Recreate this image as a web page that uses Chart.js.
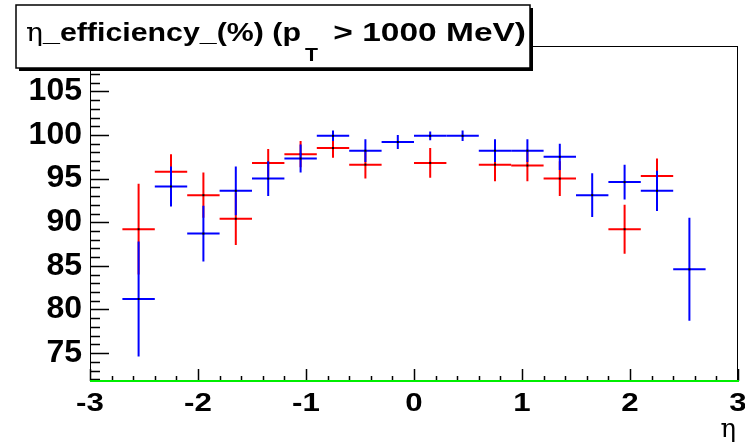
<!DOCTYPE html>
<html>
<head>
<meta charset="utf-8">
<script src="https://cdn.jsdelivr.net/npm/chart.js@4.4.1/dist/chart.umd.min.js"></script>
<style>
  html, body { margin: 0; padding: 0; background: #fff; }
  canvas { display: block; }
</style>
</head>
<body>
<canvas id="chart" width="745" height="446" style="width:745px;height:446px"></canvas>
<script>
// eta bin centres, bins are 0.3 wide
const etaBins = [-2.55, -2.25, -1.95, -1.65, -1.35, -1.05, -0.75, -0.45, -0.15,
                 0.15, 0.45, 0.75, 1.05, 1.35, 1.65, 1.95, 2.25, 2.55];
const binHalfWidth = 0.15;

const effRed = [89.2, 95.8, 93.1, 90.4, 96.8, 97.8, 98.5, 96.6, null,
                96.8, null, 96.6, 96.5, 95.0, null, 89.2, 95.3, null];
const errRed = [5.2, 2.0, 2.6, 3.0, 1.6, 1.5, 1.1, 1.6, null,
                1.7, null, 1.9, 1.8, 2.0, null, 2.8, 2.0, null];

const effBlue = [81.2, 94.1, 88.7, 93.6, 95.0, 97.3, 99.9, 98.2, 99.2,
                 99.9, 99.9, 98.2, 98.2, 97.5, 93.1, 94.6, 93.6, 84.6];
const errBlue = [6.6, 2.3, 3.2, 2.8, 2.0, 1.6, 0.6, 1.3, 0.8,
                 0.5, 0.6, 1.3, 1.3, 1.5, 2.5, 2.0, 2.3, 5.9];

const xTicks = [-3, -2, -1, 0, 1, 2, 3];
const yTicks = [75, 80, 85, 90, 95, 100, 105];
const xMin = -3, xMax = 3, yMin = 71.8, yMax = 110.2;

function toPoints(vals, errs) {
  const pts = [];
  etaBins.forEach((x, i) => {
    if (vals[i] !== null) pts.push({ x: x, y: vals[i], err: errs[i] });
  });
  return pts;
}

// draws the ROOT style crosses: bin width horizontally, error vertically
const errorBars = {
  id: 'errorBars',
  afterDatasetsDraw(chart) {
    const ctx = chart.ctx, xs = chart.scales.x, ys = chart.scales.y;
    const area = chart.chartArea;
    ctx.save();
    ctx.beginPath();
    ctx.rect(area.left, area.top, area.right - area.left, area.bottom - area.top);
    ctx.clip();
    chart.data.datasets.forEach(ds => {
      ctx.strokeStyle = ds.borderColor;
      ctx.lineWidth = 2;
      ds.data.forEach(p => {
        const px = xs.getPixelForValue(p.x), py = ys.getPixelForValue(p.y);
        ctx.beginPath();
        ctx.moveTo(xs.getPixelForValue(p.x - binHalfWidth), py);
        ctx.lineTo(xs.getPixelForValue(p.x + binHalfWidth), py);
        ctx.moveTo(px, ys.getPixelForValue(p.y - p.err));
        ctx.lineTo(px, ys.getPixelForValue(p.y + p.err));
        ctx.stroke();
        ctx.fillStyle = '#000';
        ctx.fillRect(px - 1, py - 1, 2, 2);
      });
    });
    ctx.restore();
  }
};

// stretched text, the original raster has wide glyphs
function wideText(ctx, str, font, x0, x1, base) {
  ctx.save();
  ctx.font = font;
  const w = ctx.measureText(str).width;
  ctx.translate(x0, base);
  ctx.scale((x1 - x0) / w, 1);
  ctx.textAlign = 'left';
  ctx.fillText(str, 0, 0);
  ctx.restore();
}

// frame, inward ticks, x labels, green baseline, title pave and axis title
const rootDecor = {
  id: 'rootDecor',
  afterDraw(chart) {
    const ctx = chart.ctx, xs = chart.scales.x, ys = chart.scales.y;
    const a = chart.chartArea;
    ctx.save();
    ctx.strokeStyle = '#000';
    ctx.lineWidth = 1;
    ctx.strokeRect(a.left + 0.5, a.top + 0.5, a.right - a.left - 1, a.bottom - a.top);

    ctx.beginPath();
    for (let i = 0; i <= 30; i++) {
      const v = xMin + i * 0.2;
      const px = Math.round(xs.getPixelForValue(v)) + 0.5;
      ctx.moveTo(px, a.bottom);
      ctx.lineTo(px, a.bottom - (i % 5 === 0 ? 12 : 5));
    }
    for (let v = 72; v <= 110; v += 1) {
      const py = Math.round(ys.getPixelForValue(v)) + 0.5;
      ctx.moveTo(a.left, py);
      ctx.lineTo(a.left + (v % 5 === 0 ? 19 : 10), py);
    }
    ctx.lineWidth = 1.5;
    ctx.stroke();

    ctx.strokeStyle = '#00ee00';
    ctx.lineWidth = 2;
    ctx.beginPath();
    ctx.moveTo(a.left, a.bottom);
    ctx.lineTo(a.right + 1, a.bottom);
    ctx.stroke();

    // x tick labels
    ctx.fillStyle = '#000';
    ctx.font = 'bold 25px "Liberation Sans"';
    ctx.textAlign = 'center';
    ctx.textBaseline = 'alphabetic';
    xTicks.forEach(v => {
      const px = xs.getPixelForValue(v);
      ctx.save();
      ctx.translate(px, 411);
      ctx.scale(1.25, 1);
      ctx.fillText(String(v), 0, 0);
      ctx.restore();
    });

    // title pave with shadow
    const bx = 16, by = 5, bw = 514, bh = 63;
    ctx.fillStyle = '#000';
    ctx.fillRect(bx + 3, by + 3, bw, bh);
    ctx.fillStyle = '#fff';
    ctx.fillRect(bx, by, bw, bh);
    ctx.strokeStyle = '#000';
    ctx.lineWidth = 1.5;
    ctx.strokeRect(bx, by, bw, bh);

    ctx.fillStyle = '#000';
    const base = 41;
    wideText(ctx, '\u03b7', '26px "DejaVu Serif"', 26, 43, base);
    wideText(ctx, '_efficiency_(%) (p', 'bold 26px "Liberation Sans"', 43, 301, base);
    wideText(ctx, 'T', 'bold 18px "Liberation Sans"', 305, 318, base + 20);
    wideText(ctx, ' > 1000 MeV)', 'bold 26px "Liberation Sans"', 324, 526, base);

    ctx.font = '26px "DejaVu Serif"';
    ctx.textAlign = 'right';
    ctx.fillText('\u03b7', 736, 437);
    ctx.restore();
  }
};

new Chart(document.getElementById('chart'), {
  type: 'scatter',
  data: {
    datasets: [
      { label: 'red', data: toPoints(effRed, errRed), borderColor: '#ff0000', pointRadius: 0, showLine: false },
      { label: 'blue', data: toPoints(effBlue, errBlue), borderColor: '#0000ff', pointRadius: 0, showLine: false }
    ]
  },
  options: {
    responsive: false,
    animation: false,
    devicePixelRatio: 1,
    layout: { padding: { top: 46, right: 7, left: 0, bottom: 0 } },
    plugins: { legend: { display: false }, tooltip: { enabled: false }, title: { display: false } },
    scales: {
      x: {
        type: 'linear', min: xMin, max: xMax,
        grid: { display: false, drawTicks: false },
        border: { display: false },
        afterBuildTicks: s => { s.ticks = xTicks.map(v => ({ value: v })); },
        afterFit: s => { s.height = 65; },
        ticks: { display: false }
      },
      y: {
        type: 'linear', min: yMin, max: yMax,
        grid: { display: false, drawTicks: false },
        border: { display: false },
        afterBuildTicks: s => { s.ticks = yTicks.map(v => ({ value: v })); },
        afterFit: s => { s.width = 90; },
        ticks: { color: '#000', padding: 8, autoSkip: false,
                 font: { family: 'Liberation Sans', weight: 'bold', size: 32 } }
      }
    }
  },
  plugins: [errorBars, rootDecor]
});
</script>
</body>
</html>
